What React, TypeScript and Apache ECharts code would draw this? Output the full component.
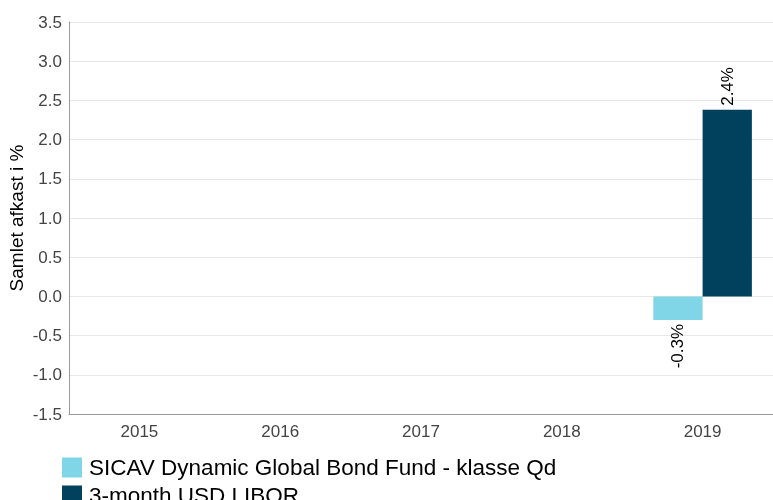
import React, { useEffect, useRef } from "react";
import * as echarts from "echarts";

const categories = ["2015", "2016", "2017", "2018", "2019"];
const fundName = "SICAV Dynamic Global Bond Fund - klasse Qd";
const liborName = "3-month USD LIBOR";
const fundValues: (number | null)[] = [null, null, null, null, -0.3];
const liborValues: (number | null)[] = [null, null, null, null, 2.38];
const yAxisName = "Samlet afkast i %";

const FONT = "'Liberation Sans', Arial, sans-serif";

function labelFor(v: number | null) {
  if (v == null) return { value: null };
  if (v >= 0) {
    return {
      value: v,
      label: { position: "top", rotate: 90, align: "left", verticalAlign: "middle", distance: 4 },
    };
  }
  return {
    value: v,
    label: { position: "bottom", rotate: 90, align: "right", verticalAlign: "middle", distance: 4 },
  };
}

export default function App() {
  const ref = useRef<HTMLDivElement>(null);
  useEffect(() => {
    if (!ref.current) return;
    const chart = echarts.init(ref.current, null, { renderer: "svg" });
    const commonLabel = {
      show: true,
      fontSize: 17,
      color: "#000",
      fontFamily: FONT,
      formatter: (p: any) => `${Number(p.value).toFixed(1)}%`,
    };
    chart.setOption({
      animation: false,
      textStyle: { fontFamily: FONT },
      grid: { left: 69, right: 0, top: 22, bottom: 86, containLabel: false, outerBoundsMode: "none" },
      legend: {
        orient: "vertical",
        left: 62,
        top: 456,
        height: 120,
        padding: 0,
        itemWidth: 20,
        itemHeight: 20,
        itemGap: 5,
        icon: "rect",
        textStyle: { fontSize: 22.5, lineHeight: 20, color: "#000", fontFamily: FONT, padding: [0, 0, 0, 2] },
        data: [fundName, liborName],
      },
      xAxis: {
        type: "category",
        data: categories,
        axisTick: { show: false },
        axisLine: { onZero: false, lineStyle: { color: "#999" } },
        axisLabel: { color: "#444", fontSize: 17, margin: 9, fontFamily: FONT },
      },
      yAxis: {
        type: "value",
        min: -1.5,
        max: 3.5,
        interval: 0.5,
        name: yAxisName,
        nameLocation: "middle",
        nameGap: 43,
        nameMoveOverlap: false,
        nameTextStyle: { fontSize: 19, color: "#000", fontFamily: FONT },
        axisLine: { show: true, lineStyle: { color: "#999" } },
        axisTick: { show: false },
        splitLine: { lineStyle: { color: "#e6e6e6" } },
        axisLabel: {
          color: "#444",
          fontSize: 17,
          margin: 7,
          fontFamily: FONT,
          formatter: (v: number) => v.toFixed(1),
        },
      },
      series: [
        {
          name: fundName,
          type: "bar",
          data: fundValues.map(labelFor),
          itemStyle: { color: "#80d6e6" },
          barGap: "0%",
          barCategoryGap: "30%",
          label: commonLabel,
        },
        {
          name: liborName,
          type: "bar",
          data: liborValues.map(labelFor),
          itemStyle: { color: "#02415e" },
          barGap: "0%",
          barCategoryGap: "30%",
          label: commonLabel,
        },
      ],
    });
    return () => chart.dispose();
  }, []);
  return (
    <div
      ref={ref}
      style={{ position: "fixed", left: 0, top: 0, width: 773, height: 500 }}
    />
  );
}
